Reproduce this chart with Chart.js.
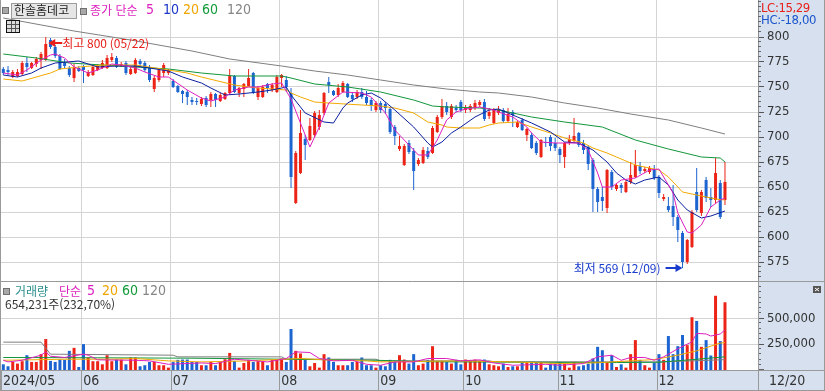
<!DOCTYPE html>
<html lang="ko">
<head>
<meta charset="utf-8">
<title>한솔홈데코</title>
<script src="https://cdn.jsdelivr.net/npm/chart.js@4.4.1/dist/chart.umd.min.js"></script>
<style>
  body { margin: 0; width: 825px; height: 391px; position: relative; overflow: hidden; background: #fff; }
  canvas { position: absolute; left: 0; }
  #priceChart { top: 0; }
  #volumeChart { top: 282px; }
  .t { position: absolute; white-space: nowrap; font: 12px/14px 'Noto Sans CJK KR', sans-serif; }
  .n { font-family: 'Liberation Sans Narrow', 'DejaVu Sans Condensed', 'Noto Sans CJK KR', sans-serif; font-size: 14px; }
  .lc { font-size: 13px; letter-spacing: -0.4px; }
  .sq { position: absolute; width: 5px; height: 5px; background: #a8a8a8; border: 1px solid #707070; }
  .namebox { position: absolute; left: 11px; top: 3px; width: 64px; height: 14px; background: #e6e6e6; border: 1px solid #9c9c9c; }
  .icon { position: absolute; left: 6px; top: 20px; width: 12px; height: 11px; border: 1px solid #111;
    background:
      linear-gradient(#555, #555) 0 3px / 100% 1px no-repeat,
      linear-gradient(#555, #555) 0 7px / 100% 1px no-repeat,
      linear-gradient(#555, #555) 4px 0 / 1px 100% no-repeat,
      linear-gradient(#555, #555) 8px 0 / 1px 100% no-repeat, #ddd; }
</style>
</head>
<body>
<canvas id="priceChart" width="825" height="282"></canvas>
<canvas id="volumeChart" width="825" height="109"></canvas>

<!-- price panel header -->
<div class="sq" style="left:2px;top:7px"></div>
<div class="namebox"></div>
<div class="t" style="left:14px;top:3px;color:#222">한솔홈데코</div>
<div class="sq" style="left:80px;top:8px"></div>
<div class="t" style="left:90px;top:3px;color:#dc1fbe">종가 단순</div>
<div class="t n" style="left:146px;top:2px;color:#dc1fbe">5</div>
<div class="t n" style="left:163px;top:2px;color:#1a35c8">10</div>
<div class="t n" style="left:183px;top:2px;color:#f0a400">20</div>
<div class="t n" style="left:202px;top:2px;color:#139a3a">60</div>
<div class="t n" style="left:227px;top:2px;color:#858585">120</div>
<div class="icon"></div>
<div class="t n lc" style="left:761px;top:1px;color:#e8201a">LC:15,29</div>
<div class="t n lc" style="left:761px;top:13px;color:#1a55cc">HC:-18,00</div>

<!-- volume panel header -->
<div class="sq" style="left:3px;top:288px"></div>
<div class="t" style="left:15px;top:284px;color:#2b8f8f">거래량</div>
<div class="t" style="left:59px;top:284px;color:#dc1fbe">단순</div>
<div class="t n" style="left:87px;top:283px;color:#dc1fbe">5</div>
<div class="t n" style="left:102px;top:283px;color:#f0a400">20</div>
<div class="t n" style="left:122px;top:283px;color:#139a3a">60</div>
<div class="t n" style="left:142px;top:283px;color:#858585">120</div>
<div class="t" style="left:5px;top:297px;color:#333">654,231주(232,70%)</div>

<script>
// month boundaries (index of first trading day of each month) and their labels
var monthLabels = ['2024/05', '06', '07', '08', '09', '10', '11', '12'];
var monthStarts = [0, 17, 36, 59, 80, 98, 118, 139];
var lastDateLabel = '12/20';

// daily candles, 2024-05-08 .. 2024-12-20
var opens = [768,767,760,761,763,774,769,773,777,777, 797,790,781,774,769,759,769,770,761,762,
  767,769,769,777,779,771,774,763,764,776, 774,770,748,757,764,764,756,751,746,745,
  737,736,733,739,737,743,736,738,744,761, 744,748,751,764,740,740,753,747,745,759,
  757,744,634,664,698,697,702,710,724,755, 746,742,745,753,742,740,745,740,737,727,
  734,733,728,710,688,672,694,686,673,674, 686,684,705,720,731,720,729,735,727,727,
  729,732,735,721,714,724,727,716,725,710, 717,702,702,694,680,695,700,694,688,680,
  694,696,704,694,690,677,648,640,629,665, 648,652,645,655,660,671,666,665,668,660,
  638,631,631,620,604,575,590,645,624,657, 640,637,654,637];
var highs = [770,771,767,768,776,780,775,780,785,800, 799,792,783,778,771,773,771,772,767,772,
  773,777,782,784,781,775,776,770,779,778, 776,772,761,769,774,768,758,752,747,747,
  740,739,740,741,745,744,744,745,768,762, 750,754,768,765,751,752,754,754,762,763,
  761,749,686,727,702,719,726,727,745,760, 747,753,756,754,745,747,749,746,739,736,
  736,735,730,712,701,693,697,689,679,690, 690,711,722,738,735,733,732,737,732,733,
  737,737,738,729,729,731,729,729,727,716, 719,709,704,696,698,700,702,699,690,695,
  702,719,705,697,692,679,650,650,668,667, 654,654,657,675,687,675,670,671,672,662,
  643,640,652,622,606,598,627,669,647,660, 649,679,657,675];
var lows = [762,762,759,760,762,765,768,770,768,776, 788,779,767,769,760,755,765,754,760,761,
  766,768,768,775,769,770,762,762,763,771, 765,755,745,755,760,762,749,744,734,732,
  732,732,731,730,730,730,735,737,743,744, 740,740,750,743,737,739,744,745,744,750,
  745,649,633,663,677,696,700,707,722,744, 741,740,744,739,735,738,738,732,726,725,
  724,723,703,692,686,671,683,647,671,673, 678,683,704,718,722,718,725,725,724,725,
  727,730,716,718,713,722,714,715,710,709, 706,696,688,682,679,690,686,686,674,669,
  692,694,690,683,667,625,625,626,624,647, 646,644,644,653,659,663,664,663,657,639,
  636,625,611,595,569,573,589,625,621,635, 630,634,618,632];
var closes = [764,765,765,765,774,770,774,778,783,793, 790,781,768,771,762,769,766,767,765,770,
  771,774,779,780,770,773,764,768,777,773, 767,757,759,767,772,767,750,745,743,740,
  735,735,738,732,743,737,742,744,761,745, 749,753,759,745,749,750,749,752,760,762,
  750,660,684,704,692,711,724,722,744,752, 742,749,754,740,738,745,740,734,732,734,
  727,729,705,701,691,691,685,666,677,687, 680,709,720,731,725,731,727,727,729,731,
  734,735,718,725,727,727,716,723,722,715, 707,708,689,684,697,694,691,689,682,694,
  698,701,692,687,673,648,635,636,667,650, 652,649,655,662,672,666,668,669,659,644,
  640,627,620,607,575,597,625,627,645,639, 637,664,620,655];
var volumes = [55000,36000,78000,62000,85000,143000,78000,78000,153000,299000,
  88000,78000,101000,98000,185000,214000,29000,250000,121000,85000,
  85000,55000,143000,85000,101000,101000,55000,121000,121000,36000,
  46000,78000,78000,46000,46000,23000,78000,98000,101000,101000,
  78000,78000,46000,46000,78000,46000,78000,104000,165000,88000,
  23000,68000,98000,78000,85000,78000,46000,98000,101000,111000,
  78000,396000,185000,160000,98000,36000,68000,23000,153000,121000,
  78000,46000,46000,46000,78000,78000,121000,46000,46000,23000,
  46000,36000,98000,85000,143000,101000,62000,153000,46000,62000,
  98000,230000,88000,88000,78000,62000,98000,55000,101000,88000,
  101000,88000,101000,55000,46000,36000,62000,29000,36000,36000,
  78000,78000,78000,78000,78000,23000,62000,62000,78000,62000,
  23000,78000,36000,46000,62000,111000,224000,191000,78000,143000,
  29000,55000,23000,153000,289000,98000,46000,23000,68000,153000,
  98000,328000,153000,230000,338000,240000,510000,474000,224000,289000,
  140000,717000,279000,654231];

// moving-average lines as [day index, value]
var ma5Points = [[0,764],[3,762],[5,767],[8,777],[10,782],[11,783],[13,779],[15,770],[18,764],[20,767],[23,773],[25,772],[28,769],[30,765],[33,760],[35,760],[39,747],[42,739],[44,736],[47,740],[49,747],[52,750],[54,750],[57,753],[59,754],[61,738],[63,714],[65,690],[67,710],[69,734],[72,745],[76,744],[78,740],[81,724],[83,707],[86,692],[88,682],[90,682],[92,697],[94,717],[96,725],[98,728],[101,730],[104,727],[105,725],[108,720],[111,710],[112,704],[114,695],[117,694],[119,694],[122,694],[124,687],[126,664],[127,650],[129,650],[131,657],[134,659],[137,667],[139,668],[140,660],[142,644],[143,624],[145,605],[146,604],[148,612],[150,630],[152,637],[153,639]];
var ma10Points = [[0,762],[3,760],[6,764],[8,769],[11,774],[16,776],[20,770],[24,771],[28,771],[31,769],[35,766],[38,760],[42,754],[44,749],[47,742],[50,743],[54,745],[57,747],[60,750],[61,742],[64,724],[68,715],[70,714],[72,729],[73,734],[76,742],[78,744],[80,739],[83,727],[87,710],[90,694],[91,690],[93,695],[95,704],[97,710],[100,720],[103,727],[105,728],[109,720],[112,714],[116,705],[119,695],[122,694],[125,687],[128,675],[130,664],[132,657],[134,653],[136,657],[139,660],[141,652],[143,637],[145,627],[148,619],[150,621],[153,626]];
var ma20Points = [[0,758],[4,756],[10,764],[12,768],[16,770],[21,772],[28,772],[35,767],[39,764],[42,760],[49,752],[54,749],[60,747],[61,744],[63,740],[66,735],[69,734],[76,732],[80,731],[83,729],[87,724],[90,715],[93,712],[94,710],[97,709],[101,709],[103,712],[105,714],[109,715],[112,710],[116,704],[119,699],[123,694],[125,689],[128,684],[130,680],[134,672],[136,670],[139,667],[141,660],[144,645],[148,641],[151,638],[153,637]];
var ma60Points = [[0,783],[7,779],[14,774],[21,772],[35,768],[42,764],[49,761],[59,761],[61,759],[66,753],[73,750],[80,745],[87,737],[91,731],[94,730],[101,729],[105,727],[112,720],[119,715],[127,710],[134,697],[141,688],[148,680],[152,679],[153,675]];
var ma120Points = [[0,819],[15,806],[27,797],[40,786],[48,778],[59,771],[66,766],[73,762],[80,757],[87,752],[94,748],[101,745],[105,744],[112,740],[119,734],[126,729],[133,723],[141,717],[148,709],[153,703]];

var volMa5Points = [[0,94000],[1,78000],[4,94000],[8,143000],[9,175000],[10,133000],[13,121000],[17,153000],[18,143000],[20,98000],[28,94000],[31,88000],[35,55000],[42,68000],[45,62000],[49,104000],[52,94000],[56,78000],[60,111000],[62,175000],[65,169000],[67,111000],[70,88000],[74,94000],[77,55000],[80,46000],[83,78000],[87,78000],[90,111000],[94,111000],[97,88000],[101,98000],[104,68000],[108,46000],[115,55000],[118,46000],[123,62000],[126,127000],[129,143000],[131,94000],[133,121000],[136,121000],[138,94000],[140,127000],[143,205000],[146,272000],[147,354000],[149,348000],[150,328000],[152,348000],[153,387000]];
var volMa20Points = [[0,94000],[13,104000],[23,104000],[28,111000],[35,88000],[42,78000],[52,88000],[58,101000],[63,111000],[70,94000],[77,88000],[80,78000],[97,88000],[108,78000],[118,62000],[126,70000],[133,88000],[138,101000],[143,143000],[147,185000],[152,260000],[153,265000]];
var volMa60Points = [[0,121000],[20,118000],[40,114000],[60,104000],[79,94000],[90,80000],[110,75000],[130,72000],[139,75000],[146,100000],[153,127000]];
var volMa120Points = [[0,269000],[8,269000],[10,153000],[36,143000],[37,127000],[59,127000],[60,104000],[79,104000],[80,88000],[103,88000],[104,80000],[139,78000],[146,88000],[153,100000]];

var priceTicks = [575, 600, 625, 650, 675, 700, 725, 750, 775, 800];
var volumeTicks = [250000, 500000];

var highMark = { index: 9, value: 800, text: '최고 800 (05/22)' };
var lowMark = { index: 144, value: 569, text: '최저 569 (12/09)' };

// ---- styles ----
var UP = '#ec2418', DOWN = '#1c64d0';
var PANEL = '#d6e0ee', GRID = '#d4d4d4', FRAME = '#999999';
var NARROW = "'Liberation Sans Narrow', 'DejaVu Sans Condensed', 'Liberation Sans', sans-serif";
var KO = "'Noto Sans CJK KR', sans-serif";
var X_MIN = -0.7, X_MAX = 160;

var candleColors = closes.map(function (c, i) { return c >= opens[i] ? UP : DOWN; });

function pts(arr) { return arr.map(function (p) { return { x: p[0], y: p[1] }; }); }
function maLine(label, arr, color) {
  return { type: 'line', label: label, data: pts(arr), borderColor: color, borderWidth: 1,
           pointRadius: 0, tension: 0, order: 0 };
}

function xScale(showLabels) {
  return {
    type: 'linear', min: X_MIN, max: X_MAX, offset: false,
    afterBuildTicks: function (s) { s.ticks = monthStarts.map(function (m) { return { value: m - 0.5 }; }); },
    afterFit: function (s) { s.height = showLabels ? 21 : 0; s.paddingLeft = 0; s.paddingRight = 0; },
    grid: { color: GRID, drawTicks: false, offset: false },
    border: { display: false },
    ticks: showLabels ? {
      autoSkip: false, maxRotation: 0, align: 'start', labelOffset: 2, padding: 3,
      color: '#333', font: { size: 14, family: NARROW },
      callback: function (v, i) { return monthLabels[i]; }
    } : { display: false }
  };
}

function yScale(min, max, ticks) {
  return {
    position: 'right', min: min, max: max,
    afterBuildTicks: function (s) { s.ticks = ticks.map(function (v) { return { value: v }; }); },
    afterFit: function (s) { s.width = 67; s.paddingTop = 0; s.paddingBottom = 0; },
    grid: { color: GRID, tickColor: '#555', tickLength: 6 },
    border: { color: '#8c8c8c' },
    ticks: { padding: 3, color: '#333', font: { size: 13, family: NARROW } }
  };
}

function minorTicks(ctx, chart, from, to, step, majors) {
  var a = chart.chartArea, y0;
  ctx.strokeStyle = '#666';
  ctx.lineWidth = 1;
  ctx.beginPath();
  for (var v = from; v <= to; v += step) {
    if (majors.indexOf(v) >= 0) continue;
    y0 = Math.round(chart.scales.y.getPixelForValue(v)) - 0.5;
    ctx.moveTo(a.right, y0);
    ctx.lineTo(a.right + (v === 0 ? 6 : 3), y0);
  }
  ctx.stroke();
}

// right-hand panel, frame, minor ticks and the high/low notes
var priceFrame = {
  id: 'priceFrame',
  beforeDraw: function (chart) {
    var ctx = chart.ctx, a = chart.chartArea;
    ctx.save();
    ctx.fillStyle = PANEL;
    ctx.fillRect(a.right, 0, chart.width - a.right, chart.height);
    ctx.restore();
  },
  afterDraw: function (chart) {
    var ctx = chart.ctx, a = chart.chartArea, w = chart.width, h = chart.height;
    var sx = chart.scales.x, sy = chart.scales.y;
    ctx.save();
    minorTicks(ctx, chart, 560, 835, 5, priceTicks);

    ctx.strokeStyle = FRAME;
    ctx.beginPath();
    ctx.moveTo(0.5, 0); ctx.lineTo(0.5, h);
    ctx.moveTo(w - 0.5, 0); ctx.lineTo(w - 0.5, h);
    ctx.moveTo(0, h - 0.5); ctx.lineTo(w, h - 0.5);
    ctx.stroke();

    ctx.font = '12px ' + KO;
    ctx.textBaseline = 'middle';

    // highest: arrow pointing left at the candle
    var hx = sx.getPixelForValue(highMark.index) + 2.5;
    var hy = Math.round(sy.getPixelForValue(highMark.value)) + 6;
    ctx.fillStyle = '#e8201a';
    ctx.strokeStyle = '#e8201a';
    ctx.lineWidth = 2;
    ctx.beginPath();
    ctx.moveTo(hx, hy); ctx.lineTo(hx + 7, hy - 4); ctx.lineTo(hx + 7, hy + 4); ctx.closePath(); ctx.fill();
    ctx.beginPath(); ctx.moveTo(hx + 6, hy); ctx.lineTo(hx + 14, hy); ctx.stroke();
    ctx.textAlign = 'left';
    ctx.fillText(highMark.text, hx + 14, hy);

    // lowest: arrow pointing right at the candle
    var lx = sx.getPixelForValue(lowMark.index);
    var ly = Math.round(sy.getPixelForValue(lowMark.value));
    ctx.fillStyle = '#1a3ccc';
    ctx.strokeStyle = '#1a3ccc';
    ctx.beginPath();
    ctx.moveTo(lx, ly); ctx.lineTo(lx - 7, ly - 4); ctx.lineTo(lx - 7, ly + 4); ctx.closePath(); ctx.fill();
    ctx.beginPath(); ctx.moveTo(lx - 6, ly); ctx.lineTo(lx - 17, ly); ctx.stroke();
    ctx.textAlign = 'right';
    ctx.fillText(lowMark.text, lx - 22, ly);
    ctx.restore();
  }
};

var volumeFrame = {
  id: 'volumeFrame',
  beforeDraw: function (chart) {
    var ctx = chart.ctx, a = chart.chartArea;
    ctx.save();
    ctx.fillStyle = PANEL;
    ctx.fillRect(a.right, 0, chart.width - a.right, chart.height);
    ctx.fillRect(0, a.bottom, chart.width, chart.height - a.bottom);
    ctx.restore();
  },
  afterDraw: function (chart) {
    var ctx = chart.ctx, a = chart.chartArea, w = chart.width, h = chart.height;
    var sx = chart.scales.x;
    ctx.save();
    minorTicks(ctx, chart, 0, 800000, 50000, volumeTicks);

    ctx.strokeStyle = FRAME;
    ctx.lineWidth = 1;
    ctx.beginPath();
    ctx.moveTo(0, a.bottom + 0.5); ctx.lineTo(w, a.bottom + 0.5);
    monthStarts.forEach(function (m) {
      var x = Math.round(sx.getPixelForValue(m - 0.5)) + 0.5;
      ctx.moveTo(x, a.bottom); ctx.lineTo(x, h);
    });
    ctx.moveTo(a.right + 0.5, 0); ctx.lineTo(a.right + 0.5, h);
    ctx.moveTo(0.5, 0); ctx.lineTo(0.5, h);
    ctx.moveTo(w - 0.5, 0); ctx.lineTo(w - 0.5, h);
    ctx.moveTo(0, h - 0.5); ctx.lineTo(w, h - 0.5);
    ctx.stroke();

    ctx.fillStyle = '#333';
    ctx.font = '14px ' + NARROW;
    ctx.textBaseline = 'middle';
    ctx.textAlign = 'left';
    ctx.fillText(lastDateLabel, a.right + 11, (a.bottom + h) / 2 + 1);

    // small maximise button
    ctx.fillStyle = '#555';
    ctx.fillRect(w - 12, 4, 8, 7);
    ctx.strokeStyle = '#fff';
    ctx.beginPath();
    ctx.moveTo(w - 10, 6); ctx.lineTo(w - 6, 9);
    ctx.moveTo(w - 6, 6); ctx.lineTo(w - 10, 9);
    ctx.stroke();
    ctx.restore();
  }
};

var common = {
  responsive: false, animation: false, devicePixelRatio: 1, locale: 'en-US',
  layout: { padding: 0 },
  plugins: { legend: { display: false }, tooltip: { enabled: false } }
};

new Chart(document.getElementById('priceChart'), {
  type: 'bar',
  data: {
    datasets: [
      maLine('5', ma5Points, '#dc1fbe'),
      maLine('10', ma10Points, '#0b1f9e'),
      maLine('20', ma20Points, '#f2a900'),
      maLine('60', ma60Points, '#12963c'),
      maLine('120', ma120Points, '#7f7f7f'),
      {
        label: 'body',
        data: opens.map(function (o, i) { return { x: i, y: [o, closes[i]] }; }),
        backgroundColor: candleColors, barThickness: 3, grouped: false,
        inflateAmount: 0, borderWidth: 0, order: 1
      },
      {
        label: 'wick',
        data: lows.map(function (l, i) { return { x: i, y: [l, highs[i]] }; }),
        backgroundColor: candleColors, barThickness: 1, grouped: false,
        inflateAmount: 0, borderWidth: 0, order: 2
      }
    ]
  },
  options: Object.assign({}, common, {
    scales: { x: xScale(false), y: yScale(555, 837, priceTicks) }
  }),
  plugins: [priceFrame]
});

new Chart(document.getElementById('volumeChart'), {
  type: 'bar',
  data: {
    datasets: [
      maLine('5', volMa5Points, '#dc1fbe'),
      maLine('20', volMa20Points, '#f2a900'),
      maLine('60', volMa60Points, '#12963c'),
      maLine('120', volMa120Points, '#7f7f7f'),
      {
        label: 'volume',
        data: volumes.map(function (v, i) { return { x: i, y: v }; }),
        backgroundColor: candleColors, barThickness: 3,
        inflateAmount: 0, borderWidth: 0, order: 1
      }
    ]
  },
  options: Object.assign({}, common, {
    scales: { x: xScale(true), y: yScale(0, 850000, volumeTicks) }
  }),
  plugins: [volumeFrame]
});
</script>
</body>
</html>
